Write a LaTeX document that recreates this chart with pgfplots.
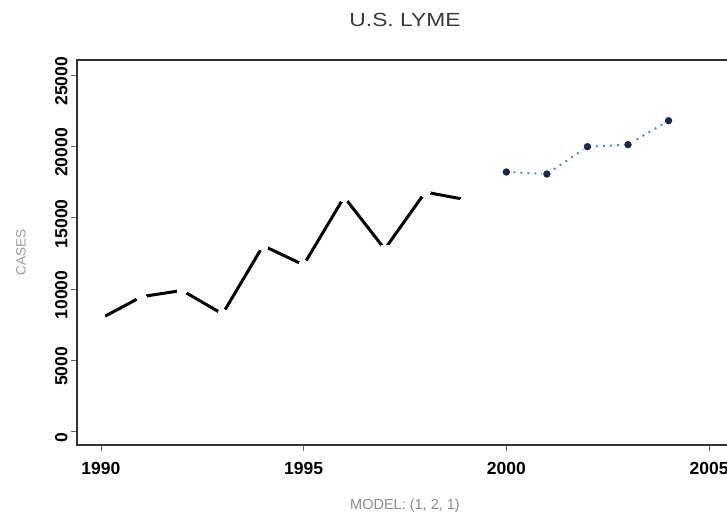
\documentclass[border=0pt]{standalone}
\usepackage{pgfplots}
\pgfplotsset{compat=1.18}
\usepackage{fontspec}
\setmainfont{Liberation Sans}
\newfontfamily\titlefont{Liberation Sans}[FakeStretch=1.2]
\definecolor{titlegray}{HTML}{3A3A3A}
\definecolor{labgray}{HTML}{999999}
\definecolor{modgray}{HTML}{8A8A8A}
\definecolor{dotblue}{HTML}{4A8FD8}
\definecolor{navy}{HTML}{1B2A4A}
\definecolor{framegray}{HTML}{333333}
\begin{document}
\begin{tikzpicture}
\begin{axis}[
  at={(77pt,69pt)}, anchor=south west,
  scale only axis, width=656pt, height=385pt,
  xmin=1989.41, xmax=2005.59, ymin=-933, ymax=26066,
  xtick={1990,1995,2000,2005},
  ytick={0,5000,10000,15000,20000,25000},
  scaled y ticks=false,
  /pgf/number format/assume math mode=true,
  /pgf/number format/1000 sep={},
  tick align=outside,
  major tick length=6pt,
  xtick pos=bottom, ytick pos=left,
  axis line style={line width=1.5pt, framegray},
  every tick/.style={line width=0.8pt, black!60},
  tick label style={font=\fontsize{17.5}{18}\selectfont\bfseries, black},
  xticklabel style={anchor=north, yshift=-8pt},
  yticklabel style={rotate=90, anchor=south, xshift=-6pt},
  title={\titlefont U.S. LYME},
  title style={at={(0.5,1)}, anchor=center, yshift=34pt, font=\fontsize{19}{20}\selectfont, titlegray},
  ylabel={CASES},
  ylabel style={at={(axis description cs:-0.0854,0.5)}, anchor=center, font=\fontsize{13.5}{14}\selectfont, labgray},
  xlabel={MODEL: (1, 2, 1)},
  xlabel style={at={(axis description cs:0.5,-0.157)}, anchor=center, font=\fontsize{14.5}{15}\selectfont, modgray},
]
\addplot[black, line width=3pt, mark=*, mark size=5pt, mark options={fill=white, draw=white, line width=0pt}]
coordinates {
(1990,7943) (1991,9465) (1992,9908) (1993,8257) (1994,13043)
(1995,11700) (1996,16455) (1997,12801) (1998,16801) (1999,16273)
};
\addplot[dotblue, line width=2pt, dash pattern=on 2pt off 5pt, mark=*, mark size=4.5pt, mark options={solid, fill=navy, draw=white, line width=1.2pt}]
coordinates {
(2000,18212) (2001,18070) (2002,19986) (2003,20126) (2004,21810)
};
\end{axis}
\pgfresetboundingbox
\useasboundingbox (0,0) rectangle (727pt,514pt);
\end{tikzpicture}
\end{document}
